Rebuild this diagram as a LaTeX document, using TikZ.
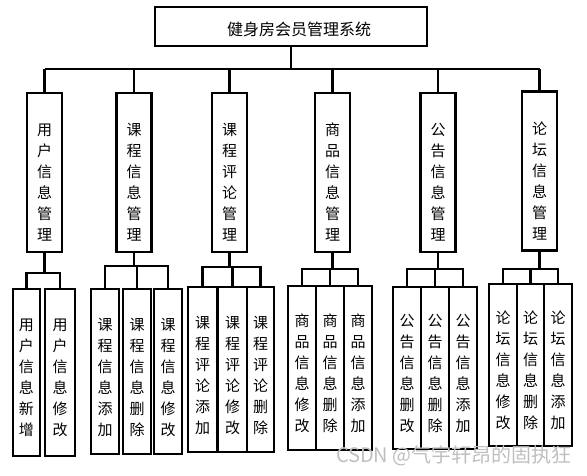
\documentclass[tikz,border=0pt]{standalone}
\usepackage{fontspec}
\newfontfamily\cjk{Noto Sans CJK SC}
\tikzset{
  box/.style={draw,line width=2.2pt,inner sep=0pt},
  vtext/.style={align=center,inner sep=0pt,font=\cjk\fontsize{15}{21}\selectfont},
  sysbox/.style={box,minimum width=272pt,minimum height=39pt},
  midbox/.style={box,minimum width=35pt,minimum height=159pt,label={[vtext,yshift=-10pt]center:#1}},
  subbox/.style={box,minimum width=28pt,label={[vtext,yshift=-5.5pt]center:#1}},
  link/.style={line width=2.2pt}
}
\begin{document}
\begin{tikzpicture}[x=1pt,y=-1pt]
			\useasboundingbox (0,0) rectangle (587,476);
			% top
			\node[sysbox,label={[font=\cjk\fontsize{16}{18}\selectfont,xshift=8pt,yshift=-3pt]center:健身房会员管理系统}] (sys) at (291,26.5) {};
			\coordinate (bus) at (0,69);
			% second level
			\node[midbox={用\\户\\信\\息\\管\\理}] (m1) at (44.5,172.5) {};
			\node[midbox={课\\程\\信\\息\\管\\理}] (m2) at (134,172.5) {};
			\node[midbox={课\\程\\评\\论\\管\\理}] (m3) at (229.5,172.5) {};
			\node[midbox={商\\品\\信\\息\\管\\理}] (m4) at (332.5,172.5) {};
			\node[midbox={公\\告\\信\\息\\管\\理}] (m5) at (438,172.5) {};
			\node[midbox={论\\坛\\信\\息\\管\\理}] (m6) at (539.5,171) {};
			\draw[link] (sys.south) -- (sys.south |- bus);
			\draw[link] (m1.north |- bus) -- (m6.north |- bus);
			\foreach \i in {1,...,6}
				\draw[link] (m\i.north) -- (m\i.north |- bus);
			% third level
			\node[subbox={用\\户\\信\\息\\新\\增},minimum height=167pt,minimum width=27pt] (s1a) at (26.5,372.5) {};
			\node[subbox={用\\户\\信\\息\\修\\改},minimum height=167pt,minimum width=30pt] (s1b) at (60,372.5) {};
			\node[subbox={课\\程\\信\\息\\添\\加},minimum height=165pt] (s2a) at (105,371.5) {};
			\node[subbox={课\\程\\信\\息\\删\\除},minimum height=165pt] (s2b) at (137,371.5) {};
			\node[subbox={课\\程\\信\\息\\修\\改},minimum height=165pt] (s2c) at (168,371.5) {};
			\node[subbox={课\\程\\评\\论\\添\\加},minimum height=165pt,minimum width=29pt] (s3a) at (202.5,369.5) {};
			\node[subbox={课\\程\\评\\论\\修\\改},minimum height=165pt,minimum width=29pt] (s3b) at (232.5,369.5) {};
			\node[subbox={课\\程\\评\\论\\删\\除},minimum height=165pt,minimum width=27pt] (s3c) at (260.5,369.5) {};
			\node[subbox={商\\品\\信\\息\\修\\改},minimum height=164pt] (s4a) at (302,368) {};
			\node[subbox={商\\品\\信\\息\\删\\除},minimum height=164pt] (s4b) at (330,368) {};
			\node[subbox={商\\品\\信\\息\\添\\加},minimum height=164pt] (s4c) at (358,368) {};
			\node[subbox={公\\告\\信\\息\\删\\改},minimum height=162pt] (s5a) at (407,368) {};
			\node[subbox={公\\告\\信\\息\\删\\除},minimum height=162pt] (s5b) at (435,368) {};
			\node[subbox={公\\告\\信\\息\\添\\加},minimum height=162pt] (s5c) at (463,368) {};
			\node[subbox={论\\坛\\信\\息\\修\\改},minimum height=162pt] (s6a) at (503,365) {};
			\node[subbox={论\\坛\\信\\息\\删\\除},minimum height=162pt,minimum width=27pt] (s6b) at (530.5,365) {};
			\node[subbox={论\\坛\\信\\息\\添\\加},minimum height=162pt] (s6c) at (558,365) {};
			% forks
			\path (m1.south) ++(0,20) coordinate (f1);
			\draw[link] (m1.south) -- (f1);
			\draw[link] (s1a.north) |- (f1) -| (s1b.north);
			\foreach \g/\d in {2/13,3/14,4/16,5/16,6/17} {
				\path (m\g.south) ++(0,\d) coordinate (f\g);
				\draw[link] (m\g.south) -- (f\g);
				\draw[link] (s\g a.north) |- (f\g) -| (s\g c.north);
				\draw[link] (s\g b.north) -- (s\g b.north |- f\g);
			}
			\node[anchor=east,inner sep=0pt,text=gray!50,font=\cjk\fontsize{20}{20}\selectfont] (mark) at (572,456) {CSDN @气宇轩昂的固执狂};
		\end{tikzpicture}
\end{document}
